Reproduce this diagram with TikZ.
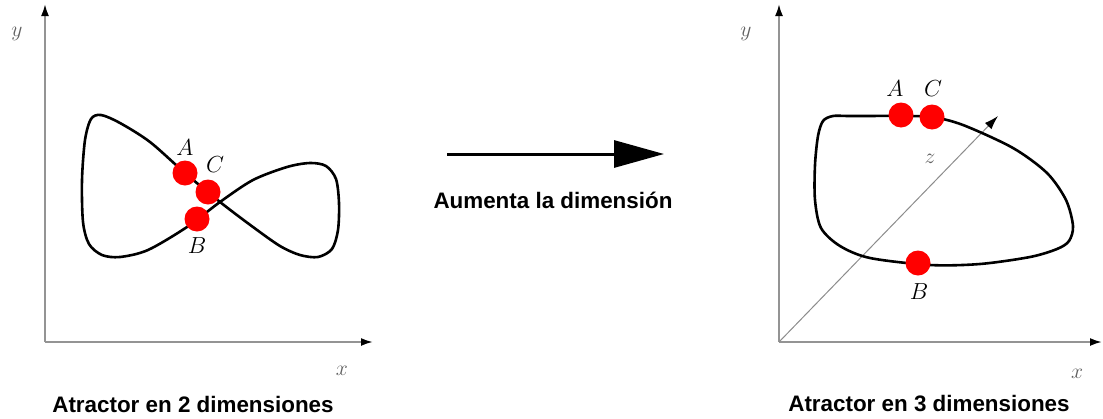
\documentclass[tikz,border=0pt]{standalone}
\usepackage{fontspec}
\newfontfamily\labelfont{Liberation Sans}
\usetikzlibrary{arrows.meta}

\newcommand{\ptmath}[1]{\scalebox{1.12}{$#1$}}
\newcommand{\axmath}[1]{\scalebox{1.25}{$#1$}}

\tikzset{
  axis/.style={draw=black!42, line width=2pt, -{Latex[length=12pt,width=8pt,color=black]}},
  zaxis/.style={draw=black!45, line width=1pt, -{Latex[length=14pt,width=9pt,color=black]}},
  orbit/.style={draw=black, line width=2.6pt},
  dot/.style={circle, fill=red, draw=none, minimum size=25pt, inner sep=0pt},
  ptlabel/.style={font=\fontsize{20.74}{25}\selectfont, inner sep=0pt},
  axlabel/.style={font=\fontsize{17.28}{21}\selectfont, text=black!62, inner sep=0pt},
  caption/.style={font=\labelfont\bfseries\fontsize{22.4}{26}\selectfont, inner sep=0pt},
  bigarrow/.style={draw=black, line width=3pt, -{Triangle[length=50pt,width=27pt]}}
}

\begin{document}
\begin{tikzpicture}[x=1pt, y=-1pt]
  \useasboundingbox (0,0) rectangle (1103,418);

  % ---------- two-dimensional attractor ----------
  \coordinate (O1) at (45,342);
  \coordinate (Y1) at (45,4);
  \coordinate (X1) at (373,342);
  \draw[axis] (O1) -- (Y1);
  \draw[axis] (O1) -- (X1);
  \node[axlabel] (ly1) at (17,34) {\axmath{y}};
  \node[axlabel] (lx1) at (342,371) {\axmath{x}};

  % figure-eight orbit
  \draw[orbit] plot[smooth cycle, tension=0.5] coordinates {
    (185,173) (150,142) (120,123) (101,115) (91,119) (85,140) (82,180)
    (83,222) (89,244) (102,255) (120,257) (148,250) (187,227) (220,202)
    (253,180) (287,167) (310,163) (326,166) (336,179) (339,203) (338,230)
    (332,249) (318,257) (300,255) (280,246) (253,227) (220,202) };

  \node[dot] (A1) at (185,173) {};
  \node[dot] (C1) at (208,192) {};
  \node[dot] (B1) at (197,219) {};
  \node[ptlabel] (lA1) at (185,148) {\ptmath{A}};
  \node[ptlabel] (lC1) at (215,165) {\ptmath{C}};
  \node[ptlabel] (lB1) at (197,246) {\ptmath{B}};

  \node[caption] (cap1) at (193,404) {Atractor en 2 dimensiones};

  % ---------- arrow between the panels ----------
  \coordinate (arrS) at (447,154);
  \coordinate (arrE) at (664,154);
  \draw[bigarrow] (arrS) -- (arrE);
  \node[caption] (capM) at (553,200) {Aumenta la dimensión};

  % ---------- three-dimensional attractor ----------
  \coordinate (O2) at (779,342);
  \coordinate (Y2) at (779,4);
  \coordinate (X2) at (1102,342);
  \coordinate (Z2) at (998,116);
  \draw[axis] (O2) -- (Y2);
  \draw[axis] (O2) -- (X2);
  \draw[zaxis] (O2) -- (Z2);
  \node[axlabel] (ly2) at (746,34) {\axmath{y}};
  \node[axlabel] (lx2) at (1077,374) {\axmath{x}};
  \node[axlabel] (lz2) at (930,159) {\axmath{z}};

  % closed orbit
  \draw[orbit] plot[smooth cycle, tension=0.5] coordinates {
    (850,116) (901,116) (932,117) (963,125) (1013,148) (1047,173)
    (1066,200) (1073,226) (1069,241) (1057,249) (1030,257) (980,264)
    (930,265) (870,258) (840,246) (821,228) (815,200) (815,165)
    (818,136) (823,121) (833,116) };

  \node[dot] (A2) at (901,115) {};
  \node[dot] (C2) at (932,117) {};
  \node[dot] (B2) at (918,263) {};
  \node[ptlabel] (lA2) at (895,89) {\ptmath{A}};
  \node[ptlabel] (lC2) at (933,89) {\ptmath{C}};
  \node[ptlabel] (lB2) at (919,292) {\ptmath{B}};

  \node[caption] (cap2) at (929,404) {Atractor en 3 dimensiones};
\end{tikzpicture}
\end{document}
